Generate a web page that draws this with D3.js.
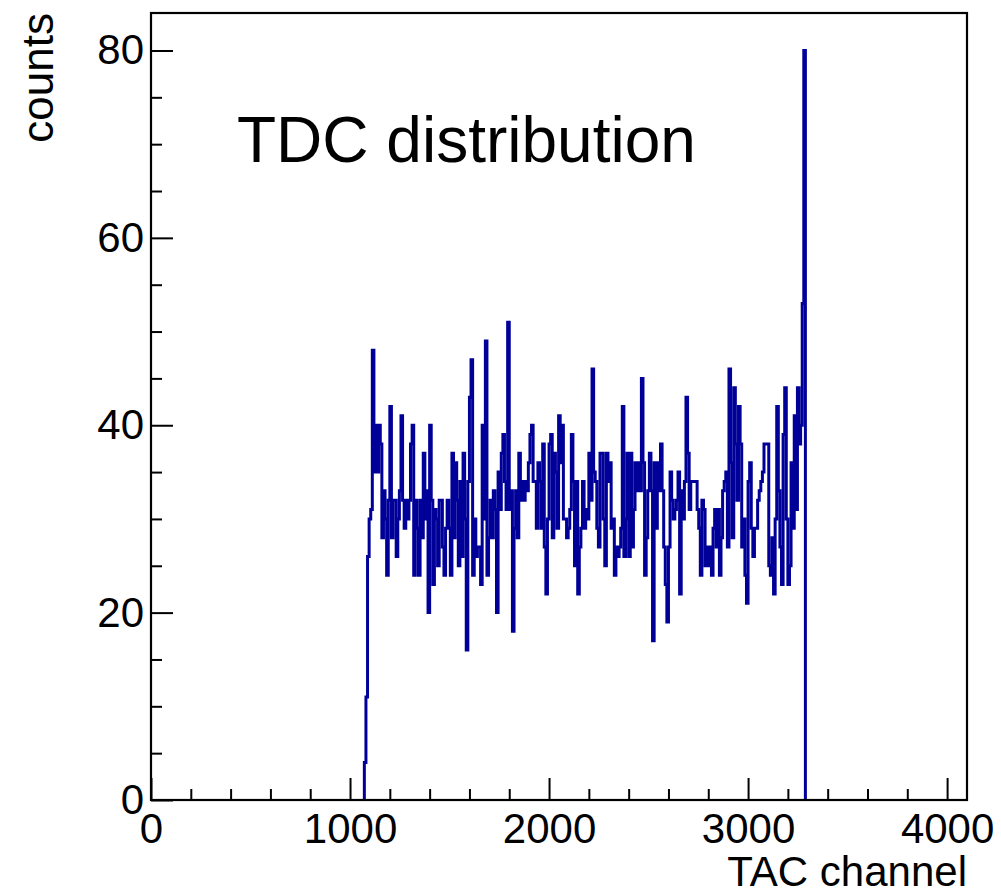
<!DOCTYPE html>
<html>
<head>
<meta charset="utf-8">
<script src="https://cdn.jsdelivr.net/npm/d3@7"></script>
<style>
  html, body { margin: 0; padding: 0; background: #fff; }
  svg { display: block; }
  text { font-family: "Liberation Sans", Arial, Helvetica, sans-serif; fill: #000; }
</style>
</head>
<body>
<svg id="chart" width="1001" height="895"></svg>
<script>
// ---- data ----
const title = "TDC distribution";
const xTitle = "TAC channel";
const yTitle = "counts";
const binStart = 1072;   // first filled bin lower edge (channel)
const binWidth = 8;      // channels per bin
const counts = [
  4, 11, 26, 30, 31, 48, 35, 40, 35, 40,
  38, 28, 33, 30, 24, 32, 42, 28, 32, 32,
  26, 30, 33, 41, 32, 29, 32, 30, 32, 38,
  40, 24, 32, 29, 24, 32, 28, 37, 30, 33,
  20, 40, 32, 23, 31, 30, 25, 32, 32, 27,
  24, 29, 32, 29, 24, 37, 28, 36, 32, 25,
  34, 26, 37, 30, 16, 34, 43, 47, 24, 30,
  26, 27, 27, 23, 40, 30, 49, 24, 28, 32,
  28, 33, 31, 20, 35, 31, 37, 39, 34, 31,
  51, 31, 33, 18, 29, 33, 28, 37, 32, 34,
  32, 34, 33, 36, 39, 40, 34, 34, 29, 36,
  34, 29, 38, 27, 22, 30, 38, 39, 28, 37,
  35, 29, 41, 36, 40, 30, 30, 28, 29, 31,
  39, 34, 25, 34, 22, 27, 29, 34, 29, 31,
  30, 37, 32, 46, 35, 34, 29, 27, 37, 37,
  30, 25, 37, 34, 36, 29, 30, 24, 27, 26,
  27, 29, 42, 26, 30, 37, 26, 37, 27, 31,
  36, 33, 36, 33, 45, 36, 24, 28, 33, 37,
  33, 17, 36, 29, 36, 33, 38, 33, 27, 23,
  19, 27, 35, 32, 30, 31, 32, 35, 22, 33,
  30, 34, 43, 37, 31, 34, 34, 34, 34, 31,
  29, 24, 32, 31, 25, 27, 25, 27, 24, 29,
  31, 27, 31, 24, 28, 33, 34, 35, 27, 46,
  36, 28, 44, 38, 32, 42, 38, 27, 30, 24,
  21, 34, 36, 29, 26, 29, 29, 32, 33, 34,
  35, 38, 38, 38, 25, 24, 28, 22, 30, 42,
  33, 27, 23, 39, 44, 30, 23, 25, 36, 29,
  41, 31, 44, 38, 40, 53, 80
];
const xDomain = [0, 4100];
const yDomain = [0, 84];
const xTickValues = [0, 1000, 2000, 3000, 4000];
const xTickLabels = ["0", "1000", "2000", "3000", "4000"];
const yTickValues = [0, 20, 40, 60, 80];
const yTickLabels = ["0", "20", "40", "60", "80"];
const xMinorStep = 200;
const yMinorStep = 5;

// ---- layout ----
const svg = d3.select("#chart");
const L = 151, R = 967, T = 13, B = 800;
const x = d3.scaleLinear().domain(xDomain).range([L, R]);
const y = d3.scaleLinear().domain(yDomain).range([B, T]);

// histogram as step line
const pts = [[binStart, 0]];
counts.forEach((c, i) => {
  const a = binStart + i * binWidth;
  pts.push([a, c]);
  pts.push([a + binWidth, c]);
});
pts.push([binStart + counts.length * binWidth, 0]);

const line = d3.line().x(d => x(d[0])).y(d => y(d[1]));
svg.append("path")
  .attr("d", line(pts))
  .attr("fill", "none")
  .attr("stroke", "#000099")
  .attr("stroke-width", 3)
  .attr("stroke-linejoin", "miter");

// minor ticks
const xMinor = d3.range(xDomain[0], xDomain[1] + 1, xMinorStep).filter(v => !xTickValues.includes(v));
const yMinor = d3.range(yDomain[0], yDomain[1] + 0.001, yMinorStep).filter(v => !yTickValues.includes(v));

const gx = svg.append("g").attr("transform", `translate(0,${B})`);
gx.call(d3.axisBottom(x).tickValues(xMinor).tickSize(-11).tickFormat(""));
gx.call(g => g.selectAll(".domain").remove());
const gxM = svg.append("g").attr("transform", `translate(0,${B})`);
gxM.call(d3.axisBottom(x).tickValues(xTickValues).tickSize(-22).tickPadding(13)
  .tickFormat((d, i) => xTickLabels[i]));
gxM.select(".domain").remove();

const gy = svg.append("g").attr("transform", `translate(${L},0)`);
gy.call(d3.axisLeft(y).tickValues(yMinor).tickSize(-11).tickFormat(""));
gy.call(g => g.selectAll(".domain").remove());
const gyM = svg.append("g").attr("transform", `translate(${L},0)`);
gyM.call(d3.axisLeft(y).tickValues(yTickValues).tickSize(-22).tickPadding(7)
  .tickFormat((d, i) => yTickLabels[i]));
gyM.select(".domain").remove();

svg.selectAll(".tick line").attr("stroke", "#000").attr("stroke-width", 2);
svg.selectAll(".tick text")
  .style("font-family", '"Liberation Sans", Arial, Helvetica, sans-serif')
  .style("font-size", "42px")
  .attr("fill", "#000");

// frame
svg.append("rect")
  .attr("x", L).attr("y", T)
  .attr("width", R - L).attr("height", B - T)
  .attr("fill", "none").attr("stroke", "#000").attr("stroke-width", 2.2);

// titles
svg.append("text")
  .attr("x", 237).attr("y", 162)
  .style("font-size", "64px")
  .text(title);

svg.append("text")
  .attr("x", R).attr("y", 886)
  .attr("text-anchor", "end")
  .style("font-size", "42px")
  .text(xTitle);

svg.append("text")
  .attr("transform", `translate(53,${T}) rotate(-90)`)
  .attr("text-anchor", "end")
  .style("font-size", "44px")
  .text(yTitle);
</script>
</body>
</html>
